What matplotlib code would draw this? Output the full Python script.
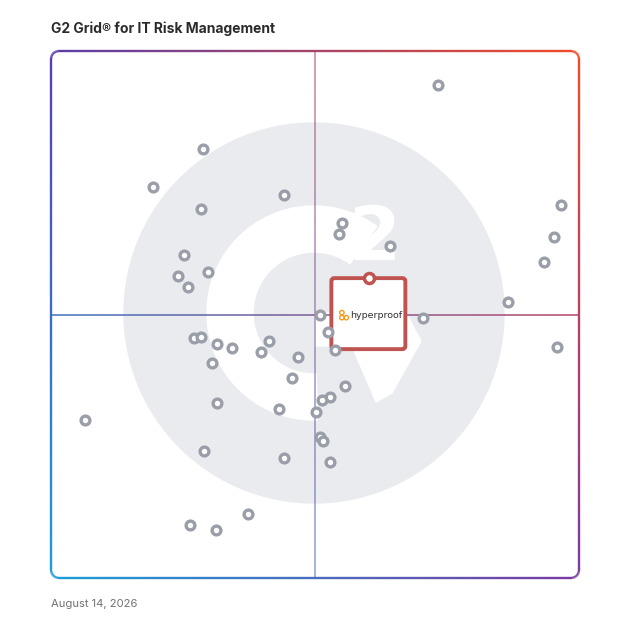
import numpy as np
import matplotlib.pyplot as plt
from matplotlib.patches import Circle, Wedge, Polygon, FancyBboxPatch
from matplotlib.collections import LineCollection
from matplotlib.colors import to_rgb

# satisfaction (x) and market presence (y) scores, 0-100
sat = [73.3, 28.8, 19.3, 44.1, 28.4, 96.6, 55.1, 54.5, 95.3, 64.2,
       25.2, 93.4, 29.7, 24.1, 25.9, 86.6, 50.9, 70.5, 52.5, 27.1,
       28.4, 31.4, 34.3, 41.3, 39.8, 46.8, 53.8, 95.8, 30.5, 45.6,
       55.7, 31.4, 52.8, 51.3, 43.2, 50.2, 6.4, 50.9, 51.5, 29.0,
       44.1, 52.8, 37.3, 26.3, 31.3]
pres = [93.5, 81.4, 74.2, 72.7, 70.0, 70.8, 67.4, 65.3, 64.7, 63.0,
        61.3, 60.0, 58.1, 57.3, 55.2, 52.4, 49.9, 49.3, 46.7, 45.5,
        45.7, 44.4, 43.6, 45.0, 42.9, 41.9, 43.3, 43.8, 40.8, 38.0,
        36.4, 33.2, 34.3, 33.8, 32.1, 31.5, 30.0, 26.8, 26.0, 24.1,
        22.8, 22.0, 12.1, 10.1, 9.1]
featured_name = 'hyperproof'
featured_sat = 60.2
featured_pres = 56.9

title = 'G2 Grid\u00ae for IT Risk Management'
date_label = 'August 14, 2026'

W = 628
fig = plt.figure(figsize=(6.28, 6.28), dpi=100)

# background axes in pixel coords (y down)
bg = fig.add_axes([0, 0, 1, 1])
bg.set_xlim(0, W)
bg.set_ylim(W, 0)
bg.axis('off')

# grid box
L, R, T, B = 51, 579, 51, 578
corners = {'tl': to_rgb('#5a3ea8'), 'tr': to_rgb('#f24b28'),
           'bl': to_rgb('#1a9ed9'), 'br': to_rgb('#7a3aa2')}


def grad_color(x, y):
    u = np.clip((x - L) / (R - L), 0, 1)
    v = np.clip((y - T) / (B - T), 0, 1)
    top = (1 - u) * np.array(corners['tl']) + u * np.array(corners['tr'])
    bot = (1 - u) * np.array(corners['bl']) + u * np.array(corners['br'])
    return tuple((1 - v) * top + v * bot)


def grad_line(pts, lw, alpha=1.0, z=3):
    pts = np.asarray(pts)
    segs = np.stack([pts[:-1], pts[1:]], axis=1)
    mids = (pts[:-1] + pts[1:]) / 2
    cols = [grad_color(mx, my) + (alpha,) for mx, my in mids]
    bg.add_collection(LineCollection(segs, colors=cols, linewidths=lw,
                                     zorder=z, capstyle='butt'))


# G2 watermark
cx, cy = 314, 313
bg.add_patch(Circle((cx, cy), 190, color='#e9ebee', zorder=1))
bg.add_patch(Wedge((cx, cy), 107, 88, 306, width=46, color='white', zorder=2))
bg.add_patch(Polygon([(315, 313), (406, 313), (421, 341), (392, 393),
                      (376, 402), (352, 346), (315, 346)],
                     closed=True, color='white', zorder=2))
bg.text(374, 240, '2', color='white', fontsize=54, fontweight='bold',
        ha='center', va='center', zorder=2)

# rounded border with gradient
r = 8
path = []
n = 200
path += [(x, T) for x in np.linspace(L + r, R - r, n)]
path += [(R - r + r * np.cos(a), T + r - r * np.sin(a)) for a in np.linspace(np.pi / 2, 0, 12)]
path += [(R, y) for y in np.linspace(T + r, B - r, n)]
path += [(R - r + r * np.cos(a), B - r - r * np.sin(a)) for a in np.linspace(0, -np.pi / 2, 12)]
path += [(x, B) for x in np.linspace(R - r, L + r, n)]
path += [(L + r + r * np.cos(a), B - r - r * np.sin(a)) for a in np.linspace(-np.pi / 2, -np.pi, 12)]
path += [(L, y) for y in np.linspace(B - r, T + r, n)]
path += [(L + r + r * np.cos(a), T + r - r * np.sin(a)) for a in np.linspace(np.pi, np.pi / 2, 12)]
grad_line(path, 1.7)

# quadrant lines
midx, midy = (L + R) / 2, (T + B) / 2
grad_line([(midx, y) for y in np.linspace(T, B, 200)], 1.2, alpha=0.6)
grad_line([(x, midy) for x in np.linspace(L, R, 200)], 1.2, alpha=0.9)

# data axes
ax = fig.add_axes([L / W, 1 - B / W, (R - L) / W, (B - T) / W])
ax.set_xlim(0, 100)
ax.set_ylim(0, 100)
ax.patch.set_alpha(0)
ax.axis('off')
ax.scatter(sat, pres, s=40, facecolor='white', edgecolor='#9a9ea9',
           linewidth=2.4, zorder=5)

# featured product box
disp = ax.transData.transform((featured_sat, featured_pres))
fx, fy = bg.transData.inverted().transform(disp)
bg.add_patch(FancyBboxPatch((fx - 37.5, fy), 74, 71,
                            boxstyle='round,pad=0,rounding_size=3',
                            facecolor='white', edgecolor='#bf5350',
                            linewidth=2.8, zorder=6))
ax.scatter([featured_sat], [featured_pres], s=52, facecolor='white',
           edgecolor='#bf5350', linewidth=2.5, zorder=7)
# small orange logo mark
for dx, dy in [(-27, 34.5), (-27, 39.5), (-22.5, 39.5)]:
    bg.add_patch(Circle((fx + dx, fy + dy), 2.2, facecolor='none',
                        edgecolor='#f59a1b', linewidth=1.0, zorder=8))
bg.text(fx - 19, fy + 37, featured_name, color='#333333', fontsize=6.8,
        ha='left', va='center', zorder=8)

# title and date
fig.text(L / W, 1 - 29 / W, title, fontsize=10, fontweight='bold',
         family='Inter', color='#2b2b2b', ha='left', va='center')
fig.text(L / W, 1 - 604 / W, date_label, fontsize=8.1, family='Inter',
         color='#727272', ha='left', va='center')

fig.savefig('out.png', dpi=100)
